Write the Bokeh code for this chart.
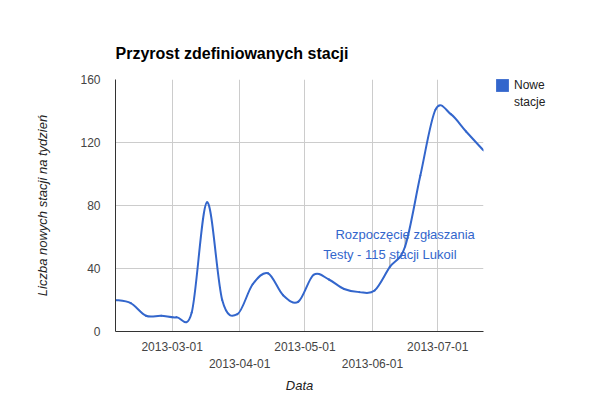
import numpy as np
from bokeh.plotting import figure
from bokeh.models import (Range1d, DatetimeAxis, FixedTicker, DatetimeTickFormatter,
                          Legend, LegendItem)
from bokeh.core.properties import value
from bokeh.embed import file_html
from bokeh.resources import INLINE

# ---- data ----
weeks = ["2013-02-03", "2013-02-10", "2013-02-17", "2013-02-24", "2013-03-03",
         "2013-03-10", "2013-03-17", "2013-03-24", "2013-03-31", "2013-04-07",
         "2013-04-14", "2013-04-21", "2013-04-28", "2013-05-05", "2013-05-12",
         "2013-05-19", "2013-05-26", "2013-06-02", "2013-06-09", "2013-06-16",
         "2013-06-23", "2013-06-30", "2013-07-07", "2013-07-14", "2013-07-22"]
new_stations = [20, 18, 10, 10, 9,
                12, 82, 20, 11, 30,
                37, 23, 19, 36, 33,
                27, 25, 26, 41, 54,
                99, 141, 138, 127, 115]
annotation_weeks = ["2013-06-09", "2013-06-16"]
annotation_texts = ["Testy - 115 stacji Lukoil", "Rozpoczęcie zgłaszania"]
x_ticks_row1 = ["2013-03-01", "2013-05-01", "2013-07-01"]
x_ticks_row2 = ["2013-04-01", "2013-06-01"]
y_ticks = [0, 40, 80, 120, 160]
series_name_lines = ["Nowe", "stacje"]
title_text = "Przyrost zdefiniowanych stacji"
x_title = "Data"
y_title = "Liczba nowych stacji na tydzień"

FONT = "Liberation Sans"
BLUE = "#3366cc"
FRAME_W, FRAME_H = 368, 252
Y_MAX = 160


def ms(dates):
    return [float(v) for v in np.array(dates, dtype="datetime64[ms]").astype("int64")]


x = np.array(ms(weeks))
y = np.array(new_stations, dtype=float)
n = len(x)

# Catmull-Rom spline expressed as cubic Bezier segments (smooth "function" curve)
xp = np.concatenate([[x[0]], x, [x[-1]]])
yp = np.concatenate([[y[0]], y, [y[-1]]])
cx0 = x[:-1] + (xp[2:n + 1] - xp[0:n - 1]) / 6.0
cy0 = y[:-1] + (yp[2:n + 1] - yp[0:n - 1]) / 6.0
cx1 = x[1:] - (xp[3:n + 2] - xp[1:n]) / 6.0
cy1 = y[1:] - (yp[3:n + 2] - yp[1:n]) / 6.0

p = figure(frame_width=FRAME_W, frame_height=FRAME_H, x_axis_type="datetime",
           x_range=Range1d(start=float(x[0]), end=float(x[-1])),
           y_range=Range1d(start=0, end=Y_MAX),
           output_backend="svg", toolbar_location=None,
           min_border_left=115, min_border_right=110,
           min_border_top=79, min_border_bottom=75)
p.outline_line_color = None
p.background_fill_color = "white"
p.border_fill_color = "white"

# title
p.title.text = title_text
p.title.text_font = FONT
p.title.text_font_size = "16px"
p.title.text_font_style = "bold"
p.title.text_color = "#000000"
p.title.align = "left"
p.title.standoff = 35

fmt = DatetimeTickFormatter(days="%Y-%m-%d", months="%Y-%m-%d", years="%Y-%m-%d",
                            hours="%Y-%m-%d", minutes="%Y-%m-%d", seconds="%Y-%m-%d",
                            milliseconds="%Y-%m-%d", microseconds="%Y-%m-%d",
                            minsec="%Y-%m-%d", hourmin="%Y-%m-%d")

# x axis, first row
xa = p.xaxis[0]
xa.ticker = FixedTicker(ticks=ms(x_ticks_row1))
xa.formatter = fmt
xa.axis_line_color = "#333333"
xa.major_tick_line_color = None
xa.minor_tick_line_color = None
xa.major_tick_out = 0
xa.major_tick_in = 0
xa.minor_tick_out = 0
xa.major_label_text_font = FONT
xa.major_label_text_font_size = "12px"
xa.major_label_text_color = "#444444"
xa.major_label_standoff = 10

# x axis, second row (staggered labels)
xa2 = DatetimeAxis(ticker=FixedTicker(ticks=ms(x_ticks_row2)), formatter=fmt)
xa2.axis_line_color = None
xa2.major_tick_line_color = None
xa2.minor_tick_line_color = None
xa2.major_tick_out = 0
xa2.major_tick_in = 0
xa2.minor_tick_out = 0
xa2.major_label_text_font = FONT
xa2.major_label_text_font_size = "12px"
xa2.major_label_text_color = "#444444"
xa2.major_label_standoff = 5
xa2.axis_label = x_title
xa2.axis_label_text_font = FONT
xa2.axis_label_text_font_size = "13px"
xa2.axis_label_text_font_style = "italic"
xa2.axis_label_text_color = "#222222"
xa2.axis_label_standoff = 7
p.add_layout(xa2, "below")

# y axis
ya = p.yaxis[0]
ya.ticker = FixedTicker(ticks=y_ticks)
ya.axis_line_color = "#333333"
ya.major_tick_line_color = None
ya.minor_tick_line_color = None
ya.major_tick_out = 0
ya.major_tick_in = 0
ya.minor_tick_out = 0
ya.major_label_text_font = FONT
ya.major_label_text_font_size = "12px"
ya.major_label_text_color = "#444444"
ya.major_label_standoff = 15
ya.axis_label = y_title
ya.axis_label_text_font = FONT
ya.axis_label_text_font_size = "13px"
ya.axis_label_text_font_style = "italic"
ya.axis_label_text_color = "#222222"
ya.axis_label_standoff = 27

# grids
p.xgrid.ticker = FixedTicker(ticks=sorted(ms(x_ticks_row1) + ms(x_ticks_row2)))
p.xgrid.grid_line_color = "#cccccc"
p.ygrid.ticker = FixedTicker(ticks=y_ticks)
p.ygrid.grid_line_color = "#cccccc"

# annotation stems (10 screen px tall)
ann_x = ms(annotation_weeks)
ann_y = [new_stations[weeks.index(d)] for d in annotation_weeks]
stem_len = 10 * Y_MAX / FRAME_H
p.segment(x0=ann_x, y0=ann_y, x1=ann_x, y1=[v + stem_len for v in ann_y],
          line_color="#999999", line_width=1)

# smoothed series line
p.bezier(x0=x[:-1], y0=y[:-1], x1=x[1:], y1=y[1:],
         cx0=cx0, cy0=cy0, cx1=cx1, cy1=cy1,
         line_color=BLUE, line_width=2, line_cap="round")

# annotation texts
p.text(x=ann_x, y=ann_y, text=annotation_texts, text_align="center",
       text_baseline="alphabetic", y_offset=-12,
       text_font=value(FONT), text_font_size="13px", text_color=BLUE)

# legend (filled square like the original, label on two lines)
legend_r = p.quad(left=[0.0], right=[0.0], top=[0.0], bottom=[0.0],
                  fill_color=BLUE, line_color=None)
blank_r = p.quad(left=[0.0], right=[0.0], top=[0.0], bottom=[0.0],
                 fill_alpha=0, line_alpha=0)
legend = Legend(items=[LegendItem(label=series_name_lines[0], renderers=[legend_r]),
                       LegendItem(label=series_name_lines[1], renderers=[blank_r])],
                location=(11, 221), padding=0, margin=0, spacing=1,
                glyph_width=16, glyph_height=16, label_height=16, label_standoff=4,
                label_text_font=FONT, label_text_font_size="12px",
                label_text_color="#222222", border_line_color=None,
                background_fill_alpha=0)
p.add_layout(legend, "right")

open("out.html", "w").write(file_html(p, INLINE))
